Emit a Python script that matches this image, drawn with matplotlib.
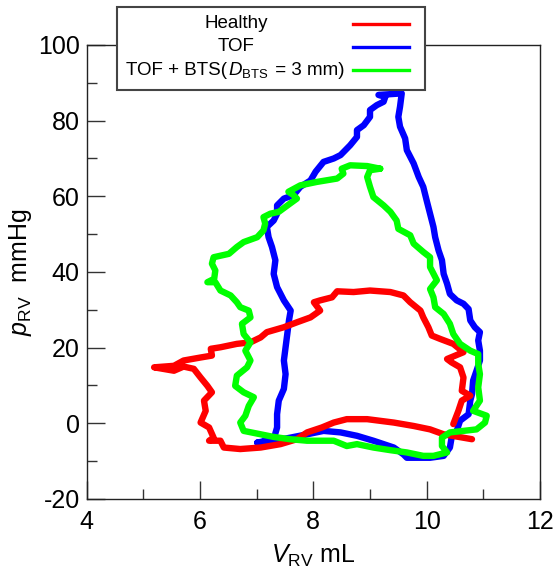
import matplotlib
matplotlib.use('Agg')
import matplotlib.pyplot as plt
from matplotlib.ticker import MultipleLocator
from matplotlib.patches import Rectangle
from matplotlib.lines import Line2D
from matplotlib.offsetbox import TextArea, HPacker, AnnotationBbox

plt.rcParams['font.family'] = ['Liberation Sans', 'Noto Sans CJK JP']
plt.rcParams['mathtext.fontset'] = 'custom'
plt.rcParams['mathtext.rm'] = 'Liberation Sans'
plt.rcParams['mathtext.it'] = 'Liberation Sans:italic'
plt.rcParams['axes.unicode_minus'] = False

# PV loops (volume mL, pressure mmHg)
healthy_v = [10.47, 10.56, 10.62, 10.77, 10.62, 10.65, 10.59, 10.44, 10.36, 10.65,
             10.47, 10.24, 10.09, 10.03, 9.94, 9.89, 9.71, 9.59, 9.36, 9.00,
             8.71, 8.42, 8.33, 8.12, 8.01, 8.12, 7.95, 7.71, 7.48, 7.18,
             7.07, 6.89, 6.65, 6.36, 6.19, 6.21, 6.01, 5.71, 5.54, 5.19,
             5.54, 5.71, 5.89, 6.01, 6.13, 6.21, 6.07, 6.10, 6.01, 6.16,
             6.24, 6.16, 6.36, 6.42, 6.71, 7.07, 7.42, 7.71, 7.89, 8.15,
             8.36, 8.59, 8.95, 9.42, 9.77, 10.06, 10.30, 10.80]
healthy_p = [-0.2, 3.3, 6.0, 7.3, 8.6, 12.1, 14.8, 16.1, 17.0, 18.8,
             21.0, 22.3, 23.2, 25.4, 28.0, 29.8, 32.0, 33.8, 34.7, 35.1,
             34.7, 34.9, 33.3, 32.5, 32.0, 29.8, 28.0, 26.7, 25.4, 24.1,
             22.7, 21.4, 21.0, 20.1, 19.7, 17.9, 17.4, 16.6, 15.2, 14.8,
             13.9, 15.0, 14.4, 12.1, 9.9, 8.2, 6.0, 3.3, 0.2, -1.1,
             -3.8, -4.6, -4.6, -6.4, -6.8, -6.4, -5.5, -4.2, -2.4, -1.1,
             0.2, 1.1, 1.1, 0.2, -0.7, -1.6, -2.9, -4.2]

tof_v = [7.01, 7.30, 7.36, 7.36, 7.39, 7.48, 7.51, 7.48, 7.51, 7.54,
         7.57, 7.60, 7.48, 7.36, 7.30, 7.33, 7.27, 7.21, 7.18, 7.30,
         7.36, 7.36, 7.48, 7.65, 7.77, 7.95, 8.04, 8.18, 8.36, 8.48,
         8.65, 8.77, 8.77, 8.89, 9.00, 9.00, 9.12, 9.24, 9.27, 9.15,
         9.56, 9.53, 9.50, 9.53, 9.62, 9.65, 9.77, 9.86, 9.94, 10.00,
         10.06, 10.12, 10.15, 10.21, 10.27, 10.30, 10.36, 10.41, 10.53, 10.65,
         10.74, 10.77, 10.85, 10.94, 10.91, 10.94, 10.94, 10.88, 10.82, 10.80,
         10.77, 10.74, 10.59, 10.53, 10.44, 10.41, 10.30, 10.06, 9.65, 9.59,
         9.42, 9.06, 8.77, 8.48, 8.18, 7.89, 7.59, 7.30, 7.01]
tof_p = [-5.1, -4.2, -1.1, 2.4, 6.0, 9.1, 13.0, 16.6, 20.1, 23.6,
         27.2, 29.8, 32.5, 36.0, 39.5, 43.1, 46.6, 49.2, 51.9, 53.6,
         55.4, 57.6, 59.4, 60.3, 62.5, 64.2, 66.5, 69.1, 70.0, 70.9,
         73.5, 75.7, 77.5, 78.8, 81.0, 82.8, 84.1, 85.0, 86.3, 86.8,
         87.2, 83.7, 81.0, 78.4, 75.3, 72.2, 68.7, 65.1, 62.5, 58.9,
         55.4, 51.9, 49.2, 45.7, 43.1, 39.5, 36.9, 34.2, 32.5, 31.6,
         30.2, 27.2, 25.4, 24.1, 21.9, 19.2, 16.6, 13.9, 11.3, 7.7,
         6.0, 2.4, 0.7, -2.0, -3.8, -6.4, -8.6, -9.1, -9.1, -8.2,
         -6.4, -4.6, -3.3, -2.4, -2.0, -2.9, -3.8, -4.6, -5.1]

bts_v = [9.18, 8.95, 8.65, 8.50, 8.53, 8.42, 8.06, 7.77, 7.56, 7.65,
         7.71, 7.59, 7.39, 7.24, 7.12, 7.15, 7.12, 7.01, 6.77, 6.65,
         6.51, 6.24, 6.21, 6.27, 6.25, 6.13, 6.27, 6.36, 6.54, 6.65,
         6.71, 6.86, 6.89, 6.74, 6.77, 6.89, 6.80, 6.89, 6.83, 6.65,
         6.62, 6.77, 6.95, 6.86, 6.80, 6.71, 6.77, 7.07, 7.30, 7.59,
         7.89, 8.36, 8.59, 8.77, 9.06, 9.36, 9.65, 9.94, 10.12, 10.36,
         10.27, 10.27, 10.41, 10.65, 10.88, 11.03, 11.06, 10.82, 10.94, 10.91,
         10.94, 10.91, 10.91, 10.77, 10.59, 10.47, 10.41, 10.30, 10.15, 10.12,
         10.06, 10.18, 10.06, 10.06, 9.94, 9.77, 9.71, 9.50, 9.47, 9.36,
         9.24, 9.06, 9.00, 8.95, 9.00, 9.18]
bts_p = [67.3, 68.0, 68.2, 67.3, 66.0, 64.7, 63.8, 62.9, 61.2, 60.3,
         59.4, 58.1, 55.9, 55.4, 54.5, 52.8, 51.0, 49.2, 47.9, 46.6,
         44.8, 43.9, 42.2, 40.4, 38.2, 37.3, 37.3, 35.1, 33.8, 32.0,
         30.7, 29.8, 28.0, 26.3, 23.6, 21.4, 19.2, 16.6, 14.8, 12.6,
         9.9, 8.2, 6.9, 4.6, 2.0, 0.2, -2.0, -2.9, -3.6, -4.2,
         -4.6, -4.6, -6.0, -5.5, -6.4, -7.1, -7.7, -8.6, -8.6, -7.7,
         -6.0, -3.8, -2.4, -2.0, -1.6, 0.2, 2.0, 3.3, 6.0, 9.5,
         13.0, 15.7, 18.3, 19.2, 21.0, 23.6, 26.3, 28.9, 30.7, 33.3,
         35.5, 37.8, 41.3, 43.9, 45.3, 47.5, 49.7, 51.4, 53.6, 55.9,
         57.6, 59.8, 62.5, 65.1, 66.9, 67.3]

labels = ['Healthy', 'TOF']
colors = ['#ff0000', '#0000ff', '#00ff00']

fig = plt.figure(figsize=(5.54, 5.68), dpi=100)
ax = fig.add_axes([0.1565, 0.1215, 0.8182, 0.7993])

line_kw = dict(linewidth=4.6, solid_capstyle='round', solid_joinstyle='round')
ax.plot(tof_v, tof_p, color=colors[1], zorder=2, **line_kw)
ax.plot(healthy_v, healthy_p, color=colors[0], zorder=3, **line_kw)
ax.plot(bts_v, bts_p, color=colors[2], zorder=4, **line_kw)

ax.set_xlim(4, 12)
ax.set_ylim(-20, 100)
ax.xaxis.set_major_locator(MultipleLocator(2))
ax.xaxis.set_minor_locator(MultipleLocator(1))
ax.yaxis.set_major_locator(MultipleLocator(20))
ax.yaxis.set_minor_locator(MultipleLocator(10))
ax.tick_params(which='both', direction='in', top=False, right=False,
               width=1, color='#333333', labelsize=18)
ax.tick_params(which='major', length=13)
ax.tick_params(which='minor', length=7)
ax.tick_params(axis='x', pad=8)
ax.tick_params(axis='y', pad=5)
for s in ax.spines.values():
    s.set_linewidth(1)
    s.set_color('#222222')

ax.set_xlabel(r'$V_{\mathrm{RV}}$ mL', fontsize=18, labelpad=6)
ax.set_ylabel(r'$p_{\mathrm{RV}}$  mmHg', fontsize=18, labelpad=3)

# legend drawn by hand: centred text on the left, line samples on the right
W, H = 554, 568
fig.add_artist(Rectangle((117 / W, 1 - 90 / H), 308 / W, 83 / H, transform=fig.transFigure,
                         facecolor='white', edgecolor='#444444', linewidth=1.5, zorder=5))
rows = [24, 46.7, 70]
for i, c in enumerate(colors):
    y = 1 - rows[i] / H
    fig.add_artist(Line2D([353 / W, 409 / W], [y, y], transform=fig.transFigure,
                          color=c, linewidth=2.4, zorder=6))
for i, lab in enumerate(labels):
    fig.text(236 / W, 1 - rows[i] / H, lab, ha='center', va='center', fontsize=13.5, zorder=6)

parts = [TextArea('TOF + BTS(', textprops=dict(fontsize=13.5)),
         TextArea(r'$D_{\mathrm{BTS}}$', textprops=dict(fontsize=13.5)),
         TextArea(' = 3 mm)', textprops=dict(fontsize=13.5))]
pack = HPacker(children=parts, align='baseline', pad=0, sep=1)
ab = AnnotationBbox(pack, (235 / W, 1 - rows[2] / H), xycoords='figure fraction',
                    frameon=False, box_alignment=(0.5, 0.5), pad=0, zorder=6)
fig.add_artist(ab)

fig.savefig('out.png', dpi=100)
